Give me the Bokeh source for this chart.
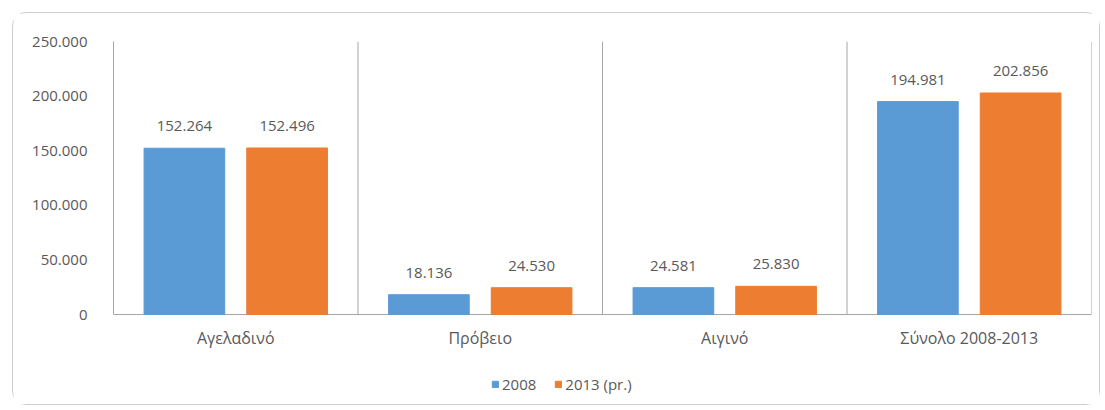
from bokeh.plotting import figure
from bokeh.models import Range1d, FixedTicker, Legend, LegendItem, ColumnDataSource
from bokeh.embed import file_html
from bokeh.resources import INLINE
from bokeh.core.properties import value

categories = ["Αγελαδινό", "Πρόβειο", "Αιγινό", "Σύνολο 2008-2013"]
series_names = ["2008", "2013 (pr.)"]
values_2008 = [152264, 18136, 24581, 194981]
values_2013 = [152496, 24530, 25830, 202856]
y_ticks = [0, 50000, 100000, 150000, 200000, 250000]
y_tick_labels = ["0", "50.000", "100.000", "150.000", "200.000", "250.000"]

colors = ["#5B9BD5", "#ED7D31"]
text_color = "#595959"
line_color = "#a6a6a6"
font = "Open Sans"
fs = "15px"

y_max = y_ticks[-1]
# frame: value axis occupies 273 px, area below zero holds category labels and legend (87 px)
y_min = -y_max * 87 / 273


def fmt(v):
    return f"{v:,}".replace(",", ".")


p = figure(width=1088, height=393, output_backend="svg", toolbar_location=None,
           x_axis_location=None,
           x_range=Range1d(0, len(categories)), y_range=Range1d(y_min, y_max),
           min_border_left=100, min_border_top=28, min_border_right=10, min_border_bottom=5,
           margin=(12, 0, 0, 12),
           styles={"border": "1px solid #cccccc", "border-radius": "14px", "background": "white"})
p.outline_line_color = None
p.background_fill_color = "white"
p.border_fill_color = "white"
p.xgrid.grid_line_color = None
p.ygrid.grid_line_color = None

# category separators and baseline
bounds = list(range(1, len(categories) + 1))
p.segment(x0=bounds, y0=[0] * len(bounds), x1=bounds, y1=[y_max] * len(bounds),
          line_color=line_color, line_width=1)
p.hspan(y=[0], line_color=line_color, line_width=1)

offset = 0.21
bar_w = 0.33
renderers = []
for k, (vals, col) in enumerate(zip([values_2008, values_2013], colors)):
    xs = [i + 0.5 + (offset if k else -offset) for i in range(len(categories))]
    src = ColumnDataSource(dict(x=xs, top=vals, lab=[fmt(v) for v in vals]))
    r = p.vbar(x="x", top="top", width=bar_w, bottom=0, color=col, source=src)
    renderers.append(r)
    p.text(x="x", y="top", text="lab", source=src, text_align="center",
           text_baseline="bottom", y_offset=-17, text_font=value(font),
           text_font_size=fs, text_color=text_color)

# category labels
p.text(x=[i + 0.5 for i in range(len(categories))], y=[0] * len(categories), text=categories,
       text_align="center", text_baseline="middle", y_offset=23,
       text_font=value(font), text_font_size="16px", text_color=text_color)

# value axis
p.yaxis.ticker = FixedTicker(ticks=y_ticks)
p.yaxis.bounds = (0, y_max)
p.yaxis.major_label_overrides = {t: l for t, l in zip(y_ticks, y_tick_labels)}
p.yaxis.major_tick_line_color = None
p.yaxis.minor_tick_line_color = None
p.yaxis.axis_line_color = line_color
p.yaxis.major_label_standoff = 20
p.yaxis.major_label_text_font = font
p.yaxis.major_label_text_font_size = fs
p.yaxis.major_label_text_color = text_color

legend = Legend(items=[LegendItem(label=n, renderers=[r]) for n, r in zip(series_names, renderers)],
                orientation="horizontal", location=(378, 7),
                glyph_width=8, glyph_height=8, label_standoff=3, spacing=18,
                label_text_font=font, label_text_font_size="15px", label_text_color=text_color,
                border_line_color=None, background_fill_alpha=0, padding=0, margin=0)
p.add_layout(legend, "center")

open("out.html", "w").write(file_html(p, INLINE))
